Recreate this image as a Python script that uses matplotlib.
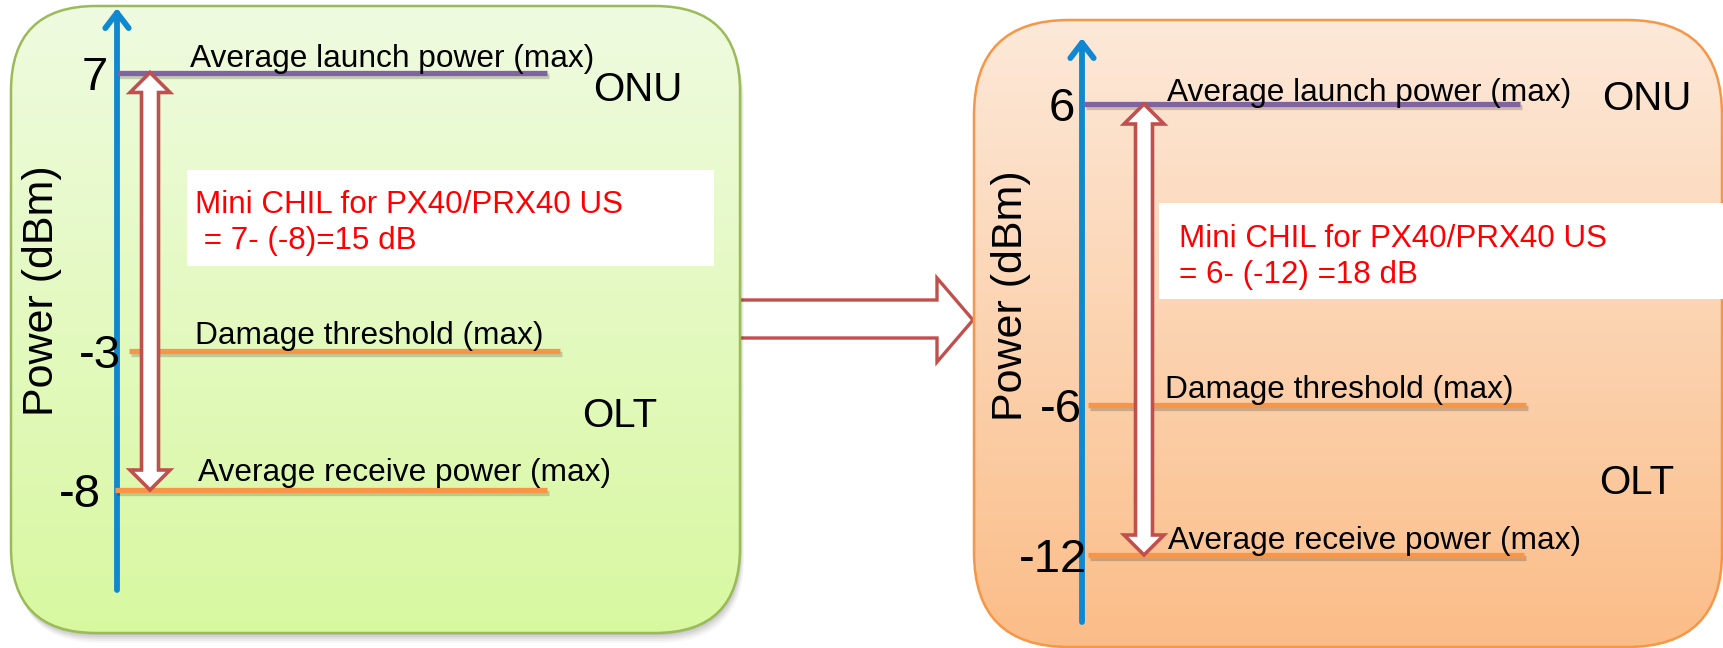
import numpy as np
import matplotlib
matplotlib.use("Agg")
import matplotlib.pyplot as plt
from matplotlib.patches import FancyBboxPatch, Polygon, Rectangle
from matplotlib.transforms import offset_copy
import matplotlib.patheffects as pe

plt.rcParams['font.family'] = ['Liberation Sans', 'DejaVu Sans']

# ---- data -------------------------------------------------------------
level_names = ["Average launch power (max)",
               "Damage threshold (max)",
               "Average receive power (max)"]

left_levels = [7, -3, -8]          # dBm, PX40/PRX40 upstream (before)
right_levels = [6, -6, -12]        # dBm, PX40/PRX40 upstream (after)
left_ticks = ["7", "-3", "-8"]
right_ticks = ["6", "-6", "-12"]

left_note = ["Mini CHIL for PX40/PRX40 US", " = 7- (-8)=15 dB"]
right_note = ["Mini CHIL for PX40/PRX40 US", "= 6- (-12) =18 dB"]

side_labels = ["ONU", "OLT"]
y_title = "Power (dBm)"

# ---- canvas -----------------------------------------------------------
W, H = 1723, 648
fig = plt.figure(figsize=(W / 100, H / 100), dpi=100, facecolor="white")
bg = fig.add_axes([0, 0, 1, 1])
bg.set_xlim(0, W)
bg.set_ylim(H, 0)
bg.axis("off")

BLUE = "#0f88d2"
PURPLE = "#8064a2"
ORANGE = "#f79646"
DARKRED = "#c0504d"
level_colors = [PURPLE, ORANGE, ORANGE]

panels = [
    dict(box=(11, 6, 740, 633), radius=85, top="#effbe0", bottom="#d8f8a0",
         edge="#9bbb59", shadow=True,
         levels=left_levels, ticks=left_ticks, note=left_note,
         anchor=((72.5, 7), (490, -8)),
         axis_x=117, axis_top=8, axis_bottom=590,
         line_x=[(117, 547), (129, 560), (115, 547)],
         name_x=[190, 195, 198], name_dy=[6, 7, 9],
         tick_x=[108, 121, 101],
         arrow_x=150,
         note_box=(187, 170, 714, 266), note_xy=[(195, 213), (195, 249)],
         onu=(593, 101), olt=(582, 427), title=(42, 291)),
    dict(box=(974, 20, 1722, 647), radius=95, top="#fde9d9", bottom="#fbbd88",
         edge=ORANGE, shadow=False,
         levels=right_levels, ticks=right_ticks, note=right_note,
         anchor=((104, 6), (555, -12)),
         axis_x=1082, axis_top=38, axis_bottom=622,
         line_x=[(1084, 1520), (1088, 1526), (1088, 1524)],
         name_x=[1167, 1165, 1168], name_dy=[3, 7, 6],
         tick_x=[1075, 1082, 1087],
         arrow_x=1144,
         note_box=(1159, 203, 1723, 299), note_xy=[(1179, 247), (1179, 283)],
         onu=(1602, 110), olt=(1599, 494), title=(1011, 296)),
]

# transition arrow between the two panels
big_arrow = Polygon([(725, 300), (937, 300), (937, 278), (973, 320),
                     (937, 362), (937, 338), (725, 338)],
                    closed=True, facecolor="white", edgecolor=DARKRED,
                    lw=2.4, joinstyle="miter", zorder=0.5)
bg.add_patch(big_arrow)


def vertical_gradient(c_top, c_bot, n=256):
    a = np.array(matplotlib.colors.to_rgb(c_top))
    b = np.array(matplotlib.colors.to_rgb(c_bot))
    t = np.linspace(0, 1, n)[:, None]
    return (a + (b - a) * t)[:, None, :]


for p in panels:
    x0, y0, x1, y1 = p["box"]
    style = f"round,pad=0,rounding_size={p['radius']}"

    if p["shadow"]:
        for k, a in zip(range(2, 12, 2), [0.07, 0.06, 0.05, 0.04, 0.03]):
            sh = FancyBboxPatch((x0 + k * 0.4, y0 + k), x1 - x0, y1 - y0,
                                boxstyle=style, facecolor="black",
                                edgecolor="none", alpha=a, zorder=0.8)
            bg.add_patch(sh)

    shape = FancyBboxPatch((x0, y0), x1 - x0, y1 - y0, boxstyle=style,
                           facecolor="none", edgecolor=p["edge"], lw=1.8,
                           zorder=1.2)
    bg.add_patch(shape)
    im = bg.imshow(vertical_gradient(p["top"], p["bottom"]),
                   extent=(x0, x1, y1, y0), aspect="auto", zorder=1,
                   interpolation="bilinear")
    im.set_clip_path(shape)

    # vertical power axis
    bg.annotate("", xy=(p["axis_x"], p["axis_top"]),
                xytext=(p["axis_x"], p["axis_bottom"]),
                arrowprops=dict(arrowstyle="->,head_length=0.55,head_width=0.42",
                                color=BLUE, lw=4.2, mutation_scale=20,
                                shrinkA=0, shrinkB=0),
                zorder=3)

    # note box
    nx0, ny0, nx1, ny1 = p["note_box"]
    bg.add_patch(Rectangle((nx0, ny0), nx1 - nx0, ny1 - ny0,
                           facecolor="white", edgecolor="none", zorder=2))
    for line, (tx, ty) in zip(p["note"], p["note_xy"]):
        bg.text(tx, ty, line, color="#ff0000", fontsize=22.6,
                va="baseline", ha="left", zorder=4)

    bg.text(*p["onu"], side_labels[0], fontsize=29, va="baseline", zorder=4)
    bg.text(*p["olt"], side_labels[1], fontsize=29, va="baseline", zorder=4)
    bg.text(*p["title"], y_title, fontsize=31, rotation=90,
            ha="center", va="center", zorder=4)

    # power-level axes: x in pixels, y in dBm
    ax = fig.add_axes([0, 0, 1, 1])
    ax.patch.set_alpha(0)
    ax.axis("off")
    ax.set_xlim(0, W)
    (p1, v1), (p2, v2) = p["anchor"]
    per_px = (v1 - v2) / (p2 - p1)
    ax.set_ylim(v1 - (H - p1) * per_px, v1 + p1 * per_px)

    shadow = [pe.SimpleLineShadow(offset=(1.5, -2.5), alpha=0.18,
                                  shadow_color="black"), pe.Normal()]
    for lvl, (lx0, lx1), col in zip(p["levels"], p["line_x"], level_colors):
        ln, = ax.plot([lx0, lx1], [lvl, lvl], color=col, lw=3.8,
                      solid_capstyle="butt", zorder=2)
        ln.set_path_effects(shadow)

    for lvl, name, nxp, dy in zip(p["levels"], level_names,
                                  p["name_x"], p["name_dy"]):
        tr = offset_copy(ax.transData, fig=fig, x=0, y=dy, units="dots")
        ax.text(nxp, lvl, name, fontsize=22.8, transform=tr,
                va="baseline", ha="left", zorder=5)

    for lvl, lab, tx in zip(p["levels"], p["ticks"], p["tick_x"]):
        tr = offset_copy(ax.transData, fig=fig, x=0, y=-17, units="dots")
        ax.text(tx, lvl, lab, fontsize=34, transform=tr,
                va="baseline", ha="right", zorder=5)

    # double-headed block arrow spanning max launch -> max receive power
    cx = p["arrow_x"]
    _, ytop = ax.transData.transform((cx, max(p["levels"])))
    _, ybot = ax.transData.transform((cx, min(p["levels"])))
    hw, sw, hl = 20, 8.5, 20
    pts = [(cx, ytop), (cx + hw, ytop - hl), (cx + sw, ytop - hl),
           (cx + sw, ybot + hl), (cx + hw, ybot + hl), (cx, ybot),
           (cx - hw, ybot + hl), (cx - sw, ybot + hl), (cx - sw, ytop - hl),
           (cx - hw, ytop - hl)]
    dbl = Polygon(pts, closed=True, transform=None, facecolor="white",
                  edgecolor=DARKRED, lw=2.6, joinstyle="miter", zorder=4)
    ax.add_artist(dbl)

fig.savefig("out.png", dpi=100, facecolor="white")
